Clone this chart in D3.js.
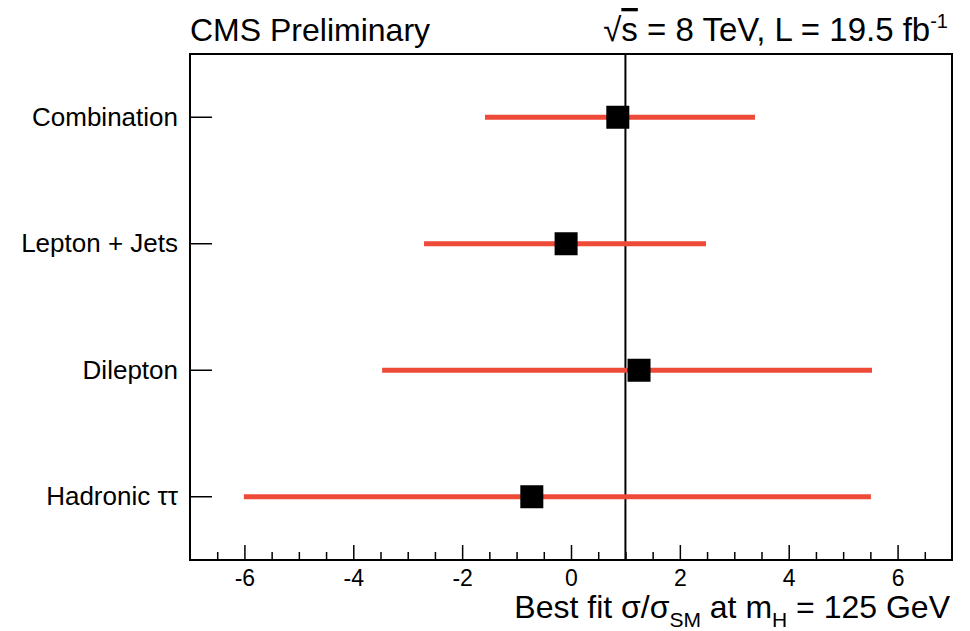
<!DOCTYPE html>
<html>
<head>
<meta charset="utf-8">
<script src="https://cdn.jsdelivr.net/npm/d3@7"></script>
<style>
  body { margin: 0; background: #fff; }
  text { font-family: 'Liberation Sans', Arial, Helvetica, sans-serif; fill: #000; }
</style>
</head>
<body>
<svg id="chart"></svg>
<script>
// channels, top to bottom
var channels = ['Combination', 'Lepton + Jets', 'Dilepton', 'Hadronic \u03c4\u03c4'];
// best fit signal strength and the edges of its error band
var bestFit = [0.86, -0.09, 1.25, -0.72];
var errLow = [-1.58, -2.70, -3.47, -6.01];
var errHigh = [3.38, 2.48, 5.53, 5.51];
var majorTicks = [-6, -4, -2, 0, 2, 4, 6];
var minorTicks = d3.range(-6.5, 7, 0.5).filter(function(t) { return majorTicks.indexOf(t) < 0; });
var smValue = 1;

var width = 970;
var height = 631;
// note: can't call it "top", that's window.top
var frame = {left: 190, right: 952, top: 54, bottom: 560};

var svg = d3.select('#chart')
    .attr('width', width)
    .attr('height', height);

var x = d3.scaleLinear()
    .domain([-7, 7])
    .range([frame.left, frame.right]);

var y = d3.scaleBand()
    .domain(channels)
    .range([frame.top, frame.bottom]);

// x axis: major ticks with labels, minor ticks without
svg.append('g')
    .attr('class', 'x-axis')
    .attr('transform', 'translate(0,' + frame.bottom + ')')
    .call(d3.axisBottom(x).tickValues(majorTicks).tickSize(-15).tickPadding(10).tickFormat(d3.format('d')))
    .call(function(g) {
      g.select('.domain').remove();
      g.selectAll('line').attr('stroke', '#000').attr('stroke-width', 1.5);
      g.selectAll('text').style('font-size', '23px').attr('fill', '#000')
        .text(function(d) { return String(d); });
    });

svg.append('g')
    .attr('class', 'x-minor')
    .attr('transform', 'translate(0,' + frame.bottom + ')')
    .call(d3.axisBottom(x).tickValues(minorTicks).tickSize(-8).tickFormat(''))
    .call(function(g) {
      g.select('.domain').remove();
      g.selectAll('line').attr('stroke', '#000').attr('stroke-width', 1.5);
    });

// y axis with channel names
svg.append('g')
    .attr('class', 'y-axis')
    .attr('transform', 'translate(' + frame.left + ',0)')
    .call(d3.axisLeft(y).tickSize(-22).tickPadding(12))
    .call(function(g) {
      g.select('.domain').remove();
      g.selectAll('line').attr('stroke', '#000').attr('stroke-width', 1.5);
      g.selectAll('text').style('font-size', '26px').attr('fill', '#000');
    });

// frame
svg.append('rect')
    .attr('x', frame.left)
    .attr('y', frame.top)
    .attr('width', frame.right - frame.left)
    .attr('height', frame.bottom - frame.top)
    .attr('fill', 'none')
    .attr('stroke', '#000')
    .attr('stroke-width', 2);

// SM expectation
svg.append('line')
    .attr('x1', x(smValue))
    .attr('x2', x(smValue))
    .attr('y1', frame.top)
    .attr('y2', frame.bottom)
    .attr('stroke', '#000')
    .attr('stroke-width', 2);

// error bands
svg.selectAll('.err')
    .data(channels)
  .enter().append('line')
    .attr('class', 'err')
    .attr('x1', function(d, i) { return x(errLow[i]); })
    .attr('x2', function(d, i) { return x(errHigh[i]); })
    .attr('y1', function(d) { return y(d) + y.bandwidth() / 2; })
    .attr('y2', function(d) { return y(d) + y.bandwidth() / 2; })
    .attr('stroke', '#ee4a38')
    .attr('stroke-width', 5);

// best fit markers
var size = 23;
svg.selectAll('.fit')
    .data(channels)
  .enter().append('rect')
    .attr('class', 'fit')
    .attr('x', function(d, i) { return x(bestFit[i]) - size / 2; })
    .attr('y', function(d) { return y(d) + y.bandwidth() / 2 - size / 2; })
    .attr('width', size)
    .attr('height', size)
    .attr('fill', '#000');

// titles
svg.append('text')
    .attr('x', frame.left)
    .attr('y', 41)
    .style('font-size', '32px')
    .text('CMS Preliminary');

var lumi = svg.append('text')
    .attr('x', 948)
    .attr('y', 41)
    .attr('text-anchor', 'end')
    .style('font-size', '33px');
lumi.append('tspan').text('\u221a');
lumi.append('tspan').attr('text-decoration', 'overline').text('s');
lumi.append('tspan').text(' = 8 TeV, L = 19.5 fb');
lumi.append('tspan').attr('dy', -13).style('font-size', '20px').text('-1');

var xTitle = svg.append('text')
    .attr('x', 950)
    .attr('y', 618)
    .attr('text-anchor', 'end')
    .style('font-size', '32px');
xTitle.append('tspan').text('Best fit \u03c3/\u03c3');
xTitle.append('tspan').attr('dy', 9).style('font-size', '21px').text('SM');
xTitle.append('tspan').attr('dy', -9).text(' at m');
xTitle.append('tspan').attr('dy', 9).style('font-size', '21px').text('H');
xTitle.append('tspan').attr('dy', -9).text(' = 125 GeV');
</script>
</body>
</html>
